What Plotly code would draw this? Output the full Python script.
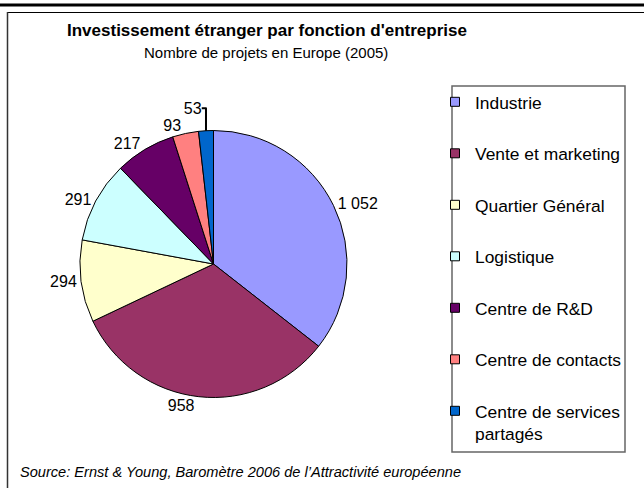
import plotly.graph_objects as go

categories = ["Industrie", "Vente et marketing", "Quartier Général", "Logistique",
              "Centre de R&D", "Centre de contacts", "Centre de services<br>partagés"]
values = [1052, 958, 294, 291, 217, 93, 53]
colors = ["#9999FF", "#993366", "#FFFFCC", "#CCFFFF", "#660066", "#FF8080", "#0066CC"]

title = "Investissement étranger par fonction d'entreprise"
subtitle = "Nombre de projets en Europe (2005)"
source = "Source: Ernst & Young, Baromètre 2006 de l’Attractivité européenne"

W, H = 644, 488
FONT = "Liberation Sans, Arial, sans-serif"
LEG_SIZE = 17.4


def px(x):
    return x / W


def py(y):
    return 1 - y / H


fig = go.Figure()
fig.add_trace(go.Pie(
    labels=categories,
    values=values,
    sort=False,
    direction="clockwise",
    rotation=0,
    marker=dict(colors=colors, line=dict(color="black", width=1)),
    textposition="outside",
    texttemplate="%{value:,}",
    textfont=dict(family=FONT, size=16, color="black"),
    domain=dict(x=[px(80), px(347)], y=[py(397.5), py(130.5)]),
    hoverinfo="skip",
    showlegend=False,
))

# legend entries (one group per category so the spacing can match the original)
for i, (cat, col) in enumerate(zip(categories, colors)):
    fig.add_trace(go.Scatter(
        x=[None], y=[None], mode="markers", name=cat,
        legendgroup=f"g{i}", showlegend=True, hoverinfo="skip",
        marker=dict(symbol="square", size=9, color=col,
                    line=dict(color="black", width=1)),
    ))

shapes = [
    dict(type="line", xref="paper", yref="paper", x0=0, x1=1, y0=py(5), y1=py(5),
         line=dict(color="black", width=3)),
    dict(type="line", xref="paper", yref="paper", x0=px(7), x1=1, y0=py(12.5), y1=py(12.5),
         line=dict(color="black", width=1.2)),
    dict(type="line", xref="paper", yref="paper", x0=px(7.5), x1=px(7.5), y0=py(12), y1=0,
         line=dict(color="#333333", width=1.5)),
    dict(type="rect", xref="paper", yref="paper", x0=px(452), x1=px(625), y0=py(452), y1=py(86),
         line=dict(color="#666666", width=1.5)),
]

annotations = [
    dict(text="<b>" + title + "</b>", x=px(267), y=py(31), xref="paper", yref="paper",
         showarrow=False, xanchor="center", yanchor="middle",
         font=dict(family=FONT, size=17, color="black")),
    dict(text=subtitle, x=px(266), y=py(52), xref="paper", yref="paper",
         showarrow=False, xanchor="center", yanchor="middle",
         font=dict(family=FONT, size=15, color="black")),
    dict(text="<i>" + source + "</i>", x=px(18), y=py(472), xref="paper", yref="paper",
         showarrow=False, xanchor="left", yanchor="middle",
         font=dict(family=FONT, size=14.6, color="black")),
]

item_h = max(LEG_SIZE * 1.3, 16) + 3

fig.update_layout(
    width=W, height=H, autosize=False,
    margin=dict(l=0, r=0, t=0, b=0),
    paper_bgcolor="white", plot_bgcolor="white",
    separators=", ",
    showlegend=True,
    xaxis=dict(visible=False), yaxis=dict(visible=False),
    legend=dict(x=px(435), y=py(84), xanchor="left", yanchor="top",
                font=dict(family=FONT, size=LEG_SIZE, color="black"),
                valign="top", bgcolor="rgba(0,0,0,0)", borderwidth=0,
                tracegroupgap=51.5 - item_h, traceorder="grouped",
                itemwidth=30,
                itemclick=False, itemdoubleclick=False),
    shapes=shapes,
    annotations=annotations,
)

fig.write_html("out.html", config={"displayModeBar": False, "staticPlot": True},
               post_script="document.body.style.margin='0';document.body.style.overflow='hidden';")
